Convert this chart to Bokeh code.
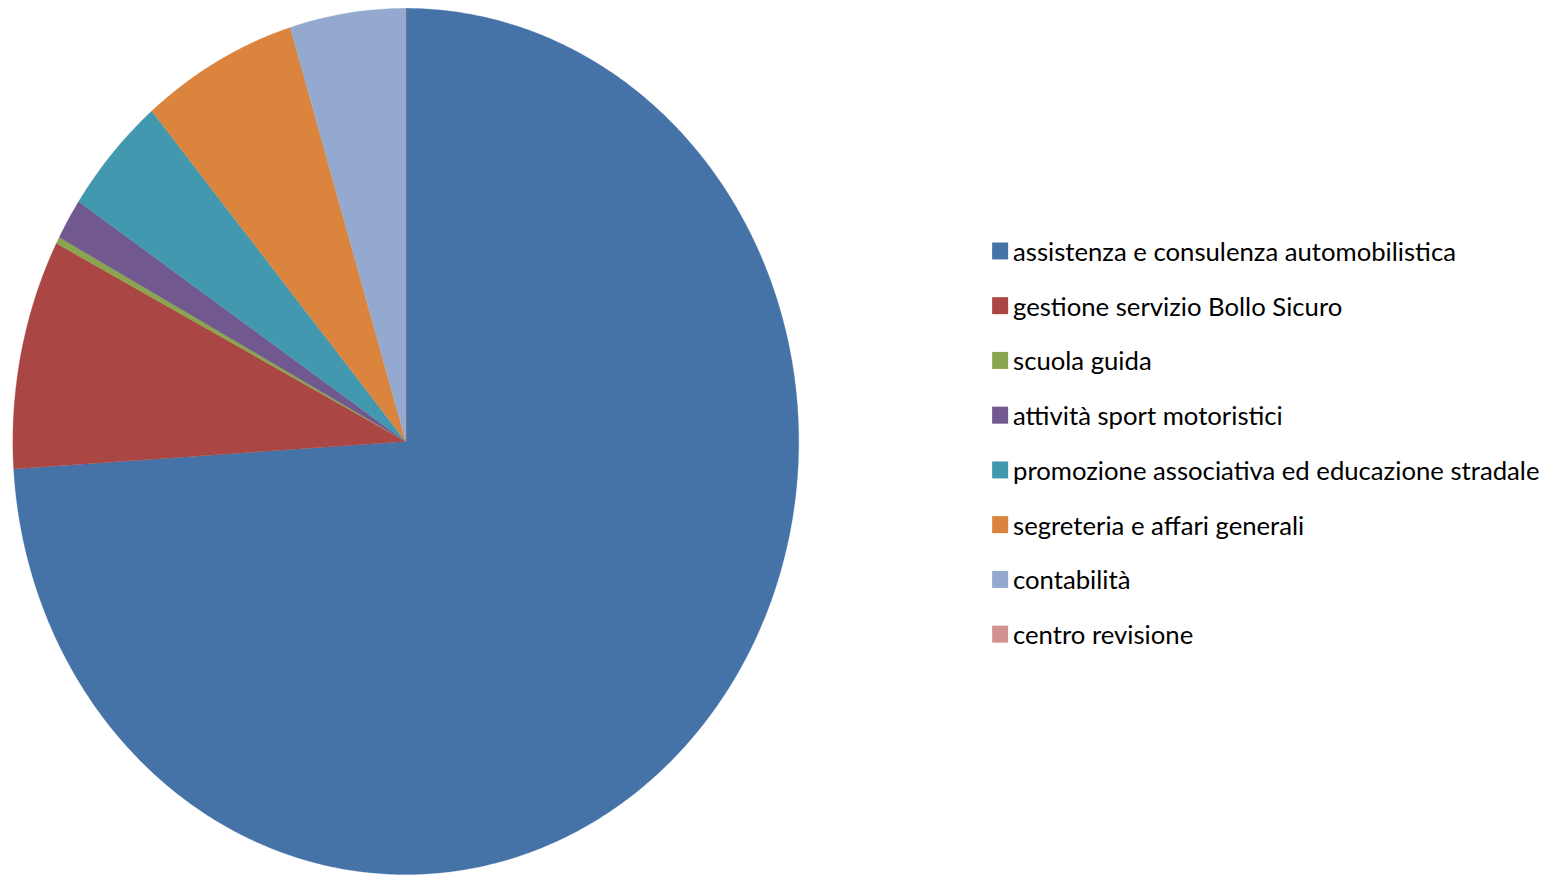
import numpy as np
from bokeh.plotting import figure
from bokeh.models import Range1d, ColumnDataSource
from bokeh.core.properties import value
from bokeh.embed import file_html
from bokeh.resources import INLINE

categories = [
    "assistenza e consulenza automobilistica",
    "gestione servizio Bollo Sicuro",
    "scuola guida",
    "attività sport motoristici",
    "promozione associativa ed educazione stradale",
    "segreteria e affari generali",
    "contabilità",
    "centro revisione",
]
values = [73.99, 8.57, 0.25, 1.53, 4.47, 6.44, 4.75, 0.0]
colors = ["#4572A7", "#AA4643", "#89A54E", "#71588F", "#4198AF", "#DB843D", "#93A9CF", "#D19392"]

W, H = 1544, 875
p = figure(width=W, height=H, output_backend="svg", toolbar_location=None,
           x_range=Range1d(0, 1560), y_range=Range1d(891, 0),
           min_border=0)
p.axis.visible = False
p.grid.visible = False
p.outline_line_color = None
p.background_fill_color = "white"

cx, cy, rx, ry = 409.5, 449.0, 397.0, 441.0
vals = np.array(values, dtype=float)
fr = vals / vals.sum()
ends = np.cumsum(fr) * 2 * np.pi
starts = ends - fr * 2 * np.pi
xs, ys = [], []
for a0, a1 in zip(starts, ends):
    n = max(2, int(np.ceil((a1 - a0) / (2 * np.pi) * 720)))
    t = np.linspace(a0, a1, n)
    xs.append(np.concatenate([[cx], cx + rx * np.sin(t)]))
    ys.append(np.concatenate([[cy], cy - ry * np.cos(t)]))
src = ColumnDataSource(dict(xs=xs, ys=ys, color=colors))
p.patches("xs", "ys", fill_color="color", line_color="color", line_width=0.3, source=src)

# legend
ly0, ldy = 255.0, 55.75
lx_box, lx_text = 1010, 1023
ly = [ly0 + i * ldy for i in range(len(categories))]
lsrc = ColumnDataSource(dict(x=[lx_box] * len(categories), tx=[lx_text] * len(categories),
                             y=ly, label=categories, color=colors))
p.rect("x", "y", width=16, height=17, width_units="screen", height_units="screen",
       fill_color="color", line_color=None, source=lsrc)
p.text("tx", "y", text="label", source=lsrc, text_font=value("Lato"),
       text_font_size="25.7px", text_baseline="middle", text_align="left", text_color="black")

open("out.html", "w").write(file_html(p, INLINE))
